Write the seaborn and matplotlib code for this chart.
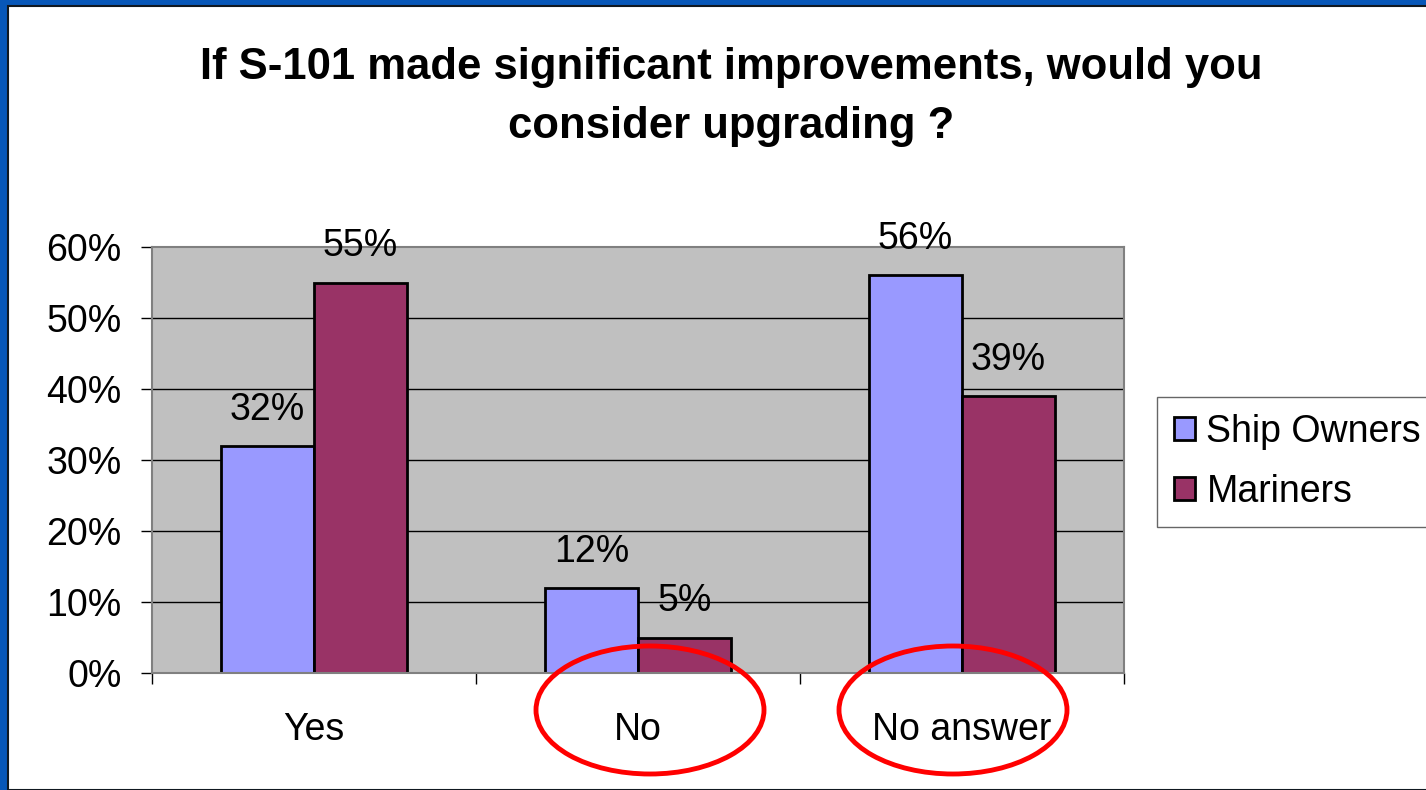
import matplotlib
matplotlib.use("Agg")
import matplotlib.pyplot as plt
import seaborn as sns
import pandas as pd
from matplotlib.patches import Rectangle, Ellipse

categories = ["Yes", "No", "No answer"]
series = ["Ship Owners", "Mariners"]
ship_owners = [32, 12, 56]
mariners = [55, 5, 39]
yticks = [0, 10, 20, 30, 40, 50, 60]
title = "If S-101 made significant improvements, would you\nconsider upgrading ?"

df = pd.DataFrame({
    "answer": categories * 2,
    "group": [series[0]] * 3 + [series[1]] * 3,
    "value": ship_owners + mariners,
})

sns.set_theme(style="white")
plt.rcParams["font.family"] = ["Liberation Sans", "DejaVu Sans"]
plt.rcParams["text.color"] = "black"
plt.rcParams["xtick.color"] = "black"
plt.rcParams["ytick.color"] = "black"
plt.rcParams["xtick.labelcolor"] = "black"
plt.rcParams["ytick.labelcolor"] = "black"

W, H = 1426, 790
fig = plt.figure(figsize=(W / 100, H / 100), dpi=100)
fig.patch.set_facecolor("#0757B8")
# white slide panel
fig.patches.append(Rectangle((8 / W, 0), 1, 1 - 6 / H, transform=fig.transFigure,
                             facecolor="white", edgecolor="#101820", linewidth=1.5, zorder=-10))

ax = fig.add_axes([152 / W, 1 - 673 / H, (1124 - 152) / W, (673 - 247) / H])
ax.set_facecolor("#C0C0C0")
ax.set_axisbelow(True)
for y in yticks[1:-1]:
    ax.axhline(y, color="black", linewidth=1, zorder=0.5)

sns.barplot(data=df, x="answer", y="value", hue="group", order=categories,
            hue_order=series, palette=["#9999FF", "#993366"], width=0.574,
            edgecolor="black", linewidth=2, ax=ax, saturation=1, legend=True, zorder=2)

for cont in ax.containers:
    ax.bar_label(cont, fmt="%d%%", padding=13, fontsize=27, color="black")

ax.set_ylim(0, 60)
ax.set_xlim(-0.5, 2.5)
ax.set_yticks(yticks)
ax.set_yticklabels([f"{v}%" for v in yticks], fontsize=27)
ax.set_xlabel("")
ax.set_ylabel("")
ax.tick_params(axis="x", which="major", length=0, pad=28, labelsize=27)
ax.set_xticks([-0.5, 0.5, 1.5, 2.5], minor=True)
ax.tick_params(axis="x", which="minor", length=8, width=1, color="black", bottom=True)
ax.tick_params(axis="y", length=8, width=1, color="black", left=True, pad=14)
for s in ax.spines.values():
    s.set_color("#808080")
    s.set_linewidth(1.5)

ax.legend_.remove()
handles, labels = ax.get_legend_handles_labels()
leg = fig.legend(handles, labels, loc="upper left",
                 bbox_to_anchor=(1157 / W, 1 - 397 / H), fontsize=27,
                 frameon=True, fancybox=False, edgecolor="#404040",
                 handlelength=0.55, handleheight=0.55, handletextpad=0.32,
                 borderpad=0.45, labelspacing=0.64, borderaxespad=0)
leg.get_frame().set_linewidth(1)

fig.text(731 / W, 1 - 97 / H, title, ha="center", va="center", fontsize=31.4,
         fontweight="bold", linespacing=1.58)

for cx in (650, 953):
    fig.patches.append(Ellipse((cx / W, 1 - 710 / H), 228 / W, 128 / H,
                               transform=fig.transFigure, fill=False,
                               edgecolor="#FF0000", linewidth=3.5, zorder=5))

fig.savefig("out.png", dpi=100)
